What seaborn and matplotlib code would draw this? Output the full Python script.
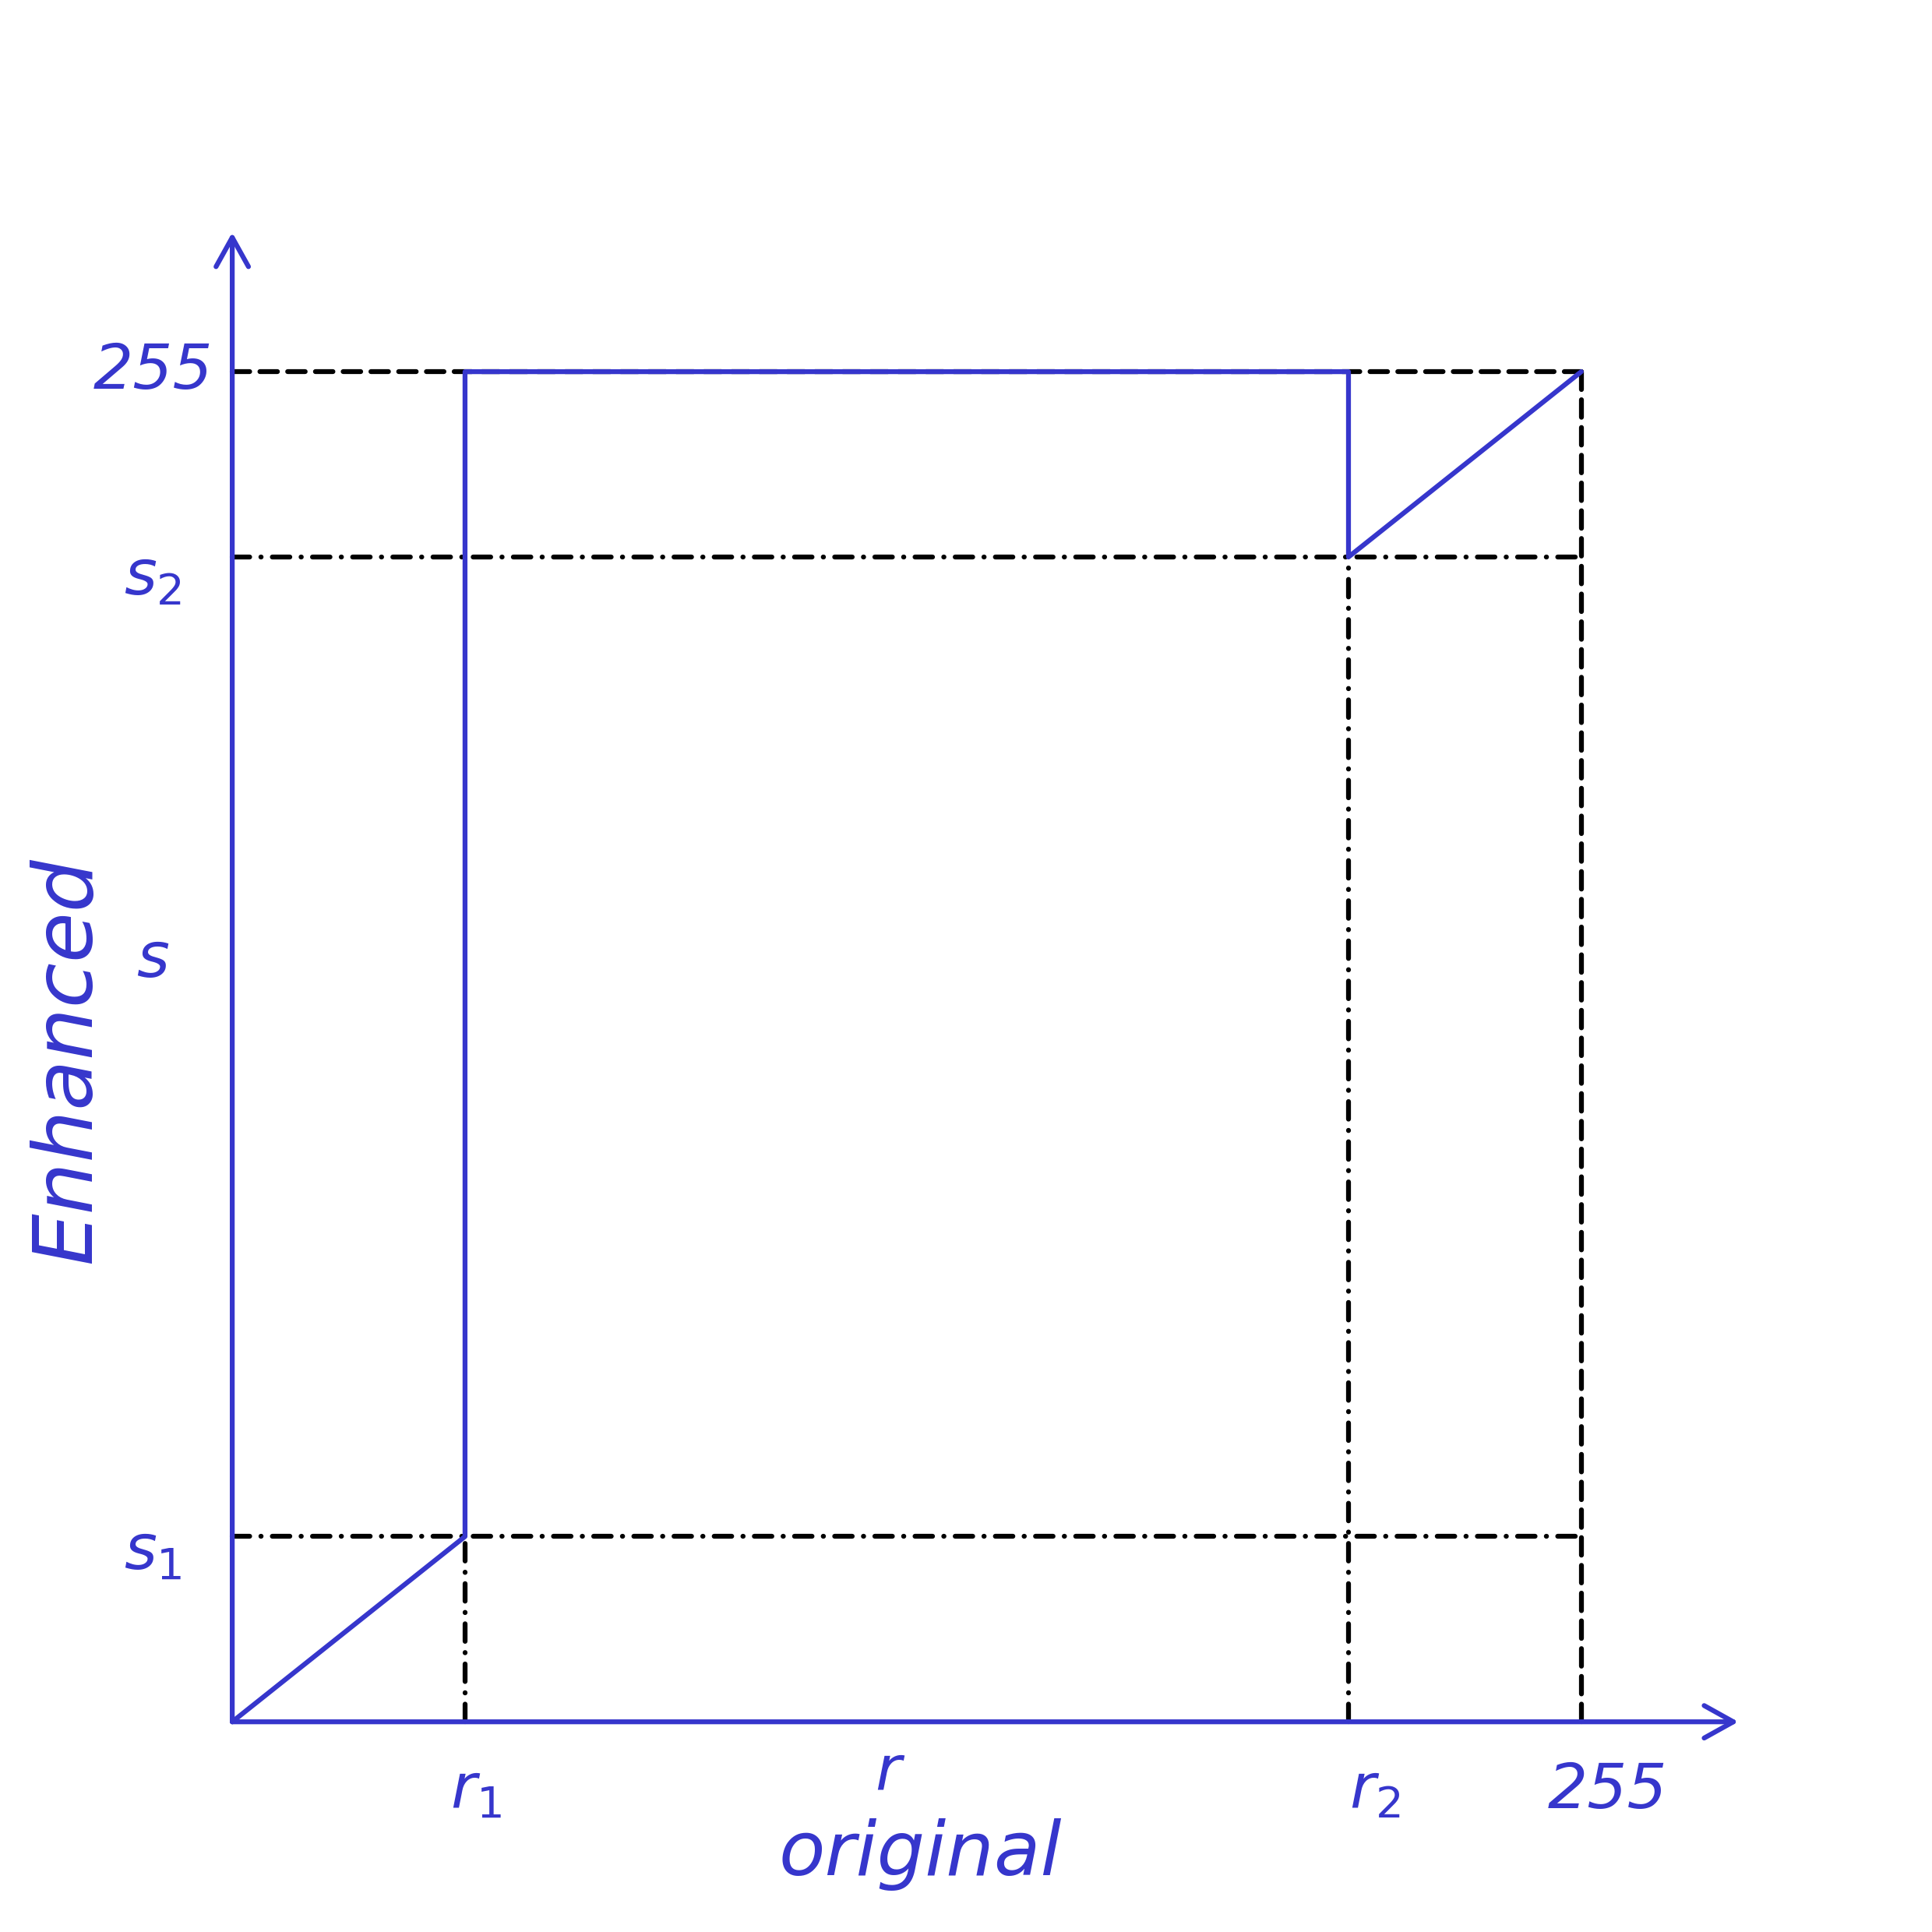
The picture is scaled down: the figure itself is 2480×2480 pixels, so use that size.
import numpy as np
import pandas as pd
import seaborn as sns
import matplotlib.pyplot as plt

# contrast stretching sketch: breakpoints
r_points = [0, 44, 44, 211, 211, 255]
s_points = [0, 35, 255, 255, 220, 255]
r1, r2 = 44, 211
s1, s2 = 35, 220
full = 255

x_labels = ["$r_1$", "r", "$r_2$", "255"]
x_label_pos = [r1 + 2, 124, r2 + 5, full + 5]
y_labels = ["255", "$s_2$", "s", "$s_1$"]
y_label_pos = [full, s2 - 4, 144, s1 - 3]

blue = "#3636cc"

sns.set_style("white")
plt.rcParams["font.family"] = ["DejaVu Sans"]

fig = plt.figure(figsize=(24.8, 24.8), dpi=100)
ax = fig.add_axes([0, 0, 1, 1])
ax.set_xlim(-43.9, 321.3)
ax.set_ylim(-39.7, 325.2)
ax.axis("off")

lw = 4.5
dash = dict(color="black", lw=lw, solid_capstyle="round", dash_capstyle="round")
dashed = (0, (3.6, 2.1))
dashdot = (0, (3.6, 2.3, 0.05, 2.3))

# guide lines
ax.plot([0, full], [full, full], linestyle=dashed, **dash)
ax.plot([full, full], [0, full], linestyle=dashed, **dash)
ax.plot([0, full], [s2, s2], linestyle=dashdot, **dash)
ax.plot([0, full], [s1, s1], linestyle=dashdot, **dash)
ax.plot([r1, r1], [0, s1], linestyle=dashdot, **dash)
ax.plot([r2, r2], [0, s2], linestyle=dashdot, **dash)

# axes with open arrow heads
arrow = dict(arrowstyle="->,head_length=2.7,head_width=1.5", color=blue, lw=lw,
             shrinkA=0, shrinkB=0, mutation_scale=10, capstyle="round")
ax.annotate("", xy=(284.7, 0), xytext=(0, 0), arrowprops=arrow)
ax.annotate("", xy=(0, 281.3), xytext=(0, 0), arrowprops=arrow)

# transfer curve
df = pd.DataFrame({"r": r_points, "s": s_points})
sns.lineplot(data=df, x="r", y="s", sort=False, estimator=None, color=blue,
             lw=lw, ax=ax, solid_capstyle="round", solid_joinstyle="round")

# hand written labels
for lab, xp in zip(x_labels, x_label_pos):
    yp = -9.5 if lab == "r" else -13
    ax.text(xp, yp, lab, color=blue, fontsize=58, style="italic",
            ha="center", va="center")
for lab, yp in zip(y_labels, y_label_pos):
    ax.text(-15, yp, lab, color=blue, fontsize=58, style="italic",
            ha="center", va="center")
ax.text(130, -25, "original", color=blue, fontsize=70, style="italic",
        ha="center", va="center")
ax.text(-31, 125, "Enhanced", color=blue, fontsize=76, style="italic",
        ha="center", va="center", rotation=90)

fig.savefig("out.png", dpi=100)
